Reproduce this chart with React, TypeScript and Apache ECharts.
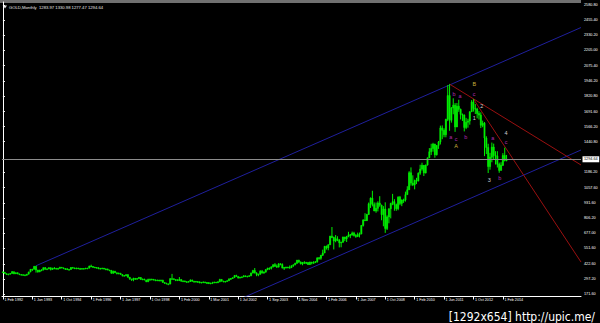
import React, { useEffect, useRef } from 'react';
import * as echarts from 'echarts';

// ---- axis labels ----
const dateLabels = ['1 Feb 1992', '1 Jun 1993', '1 Oct 1994', '1 Feb 1996', '1 Jun 1997', '1 Oct 1998', '1 Feb 2000', '1 Mar 2001', '1 Jul 2002', '1 Sep 2003', '1 Nov 2004', '1 Feb 2006', '1 Jun 2007', '1 Oct 2008', '1 Feb 2010', '1 Jun 2011', '1 Oct 2012', '1 Feb 2014'];
const barsPerLabel = 16;
const slotCount = 315;
const priceTicks = [2580.8, 2455.4, 2330.2, 2205.0, 2075.4, 1946.2, 1820.8, 1691.6, 1566.2, 1440.8, 1186.2, 1057.6, 931.6, 806.2, 677.0, 551.6, 422.6, 297.2, 171.6];
const yMin = 154.9;
const yMax = 2605.8;

// ---- GOLD monthly bars (open of each bar = previous close) ----
const firstOpen = 355;
const closes = [
  353, 341, 336, 337, 343, 357, 340, 349, 339, 334, 333,
  330, 328, 337, 355, 377, 378, 401, 372, 355, 369, 371, 391,
  378, 381, 391, 376, 387, 385, 384, 385, 394, 389, 383, 383,
  375, 376, 392, 389, 385, 387, 383, 382, 384, 382, 387, 387,
  405, 400, 396, 392, 391, 382, 385, 387, 379, 379, 371, 369,
  345, 362, 349, 340, 345, 334, 326, 325, 332, 311, 296, 290,
  302, 297, 301, 309, 293, 296, 288, 273, 293, 292, 294, 288,
  287, 288, 280, 286, 268, 262, 255, 254, 299, 299, 292, 290,
  283, 293, 278, 280, 274, 272, 276, 288, 277, 277, 275, 273, 264, 269, 272,
  265, 267, 258, 263, 265, 270, 265, 273, 293, 278, 275, 277,
  282, 297, 301, 308, 326, 318, 304, 312, 314, 323, 317, 319, 324, 347,
  367, 347, 334, 336, 361, 346, 354, 375, 388, 386, 398, 416,
  402, 396, 423, 418, 388, 393, 395, 392, 391, 407, 415, 428, 453, 438,
  422, 435, 428, 435, 417, 437, 429, 433, 440, 473, 470, 495, 513,
  569, 556, 582, 654, 643, 614, 632, 623, 599, 604, 646, 632,
  650, 665, 662, 679, 659, 650, 665, 672, 743, 789, 783, 834,
  923, 971, 917, 864, 886, 930, 913, 833, 880, 718, 814, 882,
  927, 942, 916, 883, 979, 927, 955, 955, 1000, 1040, 1182, 1096,
  1081, 1118, 1113, 1179, 1213, 1244, 1181, 1247, 1307, 1357, 1385, 1421,
  1332, 1410, 1439, 1556, 1536, 1500, 1628, 1826, 1620, 1722, 1746, 1564,
  1737, 1711, 1669, 1664, 1560, 1604, 1614, 1691, 1773, 1719, 1714, 1676,
  1663, 1578, 1596, 1472, 1393, 1234, 1312, 1396, 1327, 1323, 1253, 1202,
  1244, 1326, 1283.97, 1294.64,
];
const highs = [
  360, 355, 343, 341, 345, 363, 358, 350, 350, 340, 337,
  334, 334, 338, 357, 378, 381, 406, 407, 372, 374, 378, 393,
  396, 385, 393, 391, 389, 396, 389, 389, 398, 395, 392, 386,
  384, 380, 396, 397, 391, 391, 390, 389, 387, 386, 389, 389,
  407, 416, 404, 397, 395, 392, 389, 390, 388, 386, 383, 373,
  369, 366, 363, 349, 350, 345, 335, 329, 336, 337, 312, 298,
  307, 304, 303, 314, 311, 300, 298, 290, 299, 300, 299, 296,
  293, 291, 289, 291, 290, 268, 264, 259, 304, 339, 300, 294,
  293, 313, 294, 285, 283, 279, 280, 293, 291, 281, 279, 278, 275, 271, 276,
  273, 271, 268, 265, 273, 274, 272, 277, 298, 294, 282, 280,
  286, 302, 304, 310, 328, 332, 319, 314, 318, 327, 325, 323, 327, 349,
  373, 388, 353, 341, 370, 372, 360, 377, 389, 392, 400, 418,
  429, 418, 428, 427, 427, 397, 399, 398, 409, 409, 417, 432, 456, 457,
  443, 438, 445, 439, 435, 441, 439, 445, 446, 475, 480, 497, 541,
  572, 575, 585, 656, 730, 650, 663, 653, 627, 607, 650, 648,
  656, 690, 672, 692, 690, 671, 683, 684, 747, 794, 845, 840,
  934, 976, 1032, 935, 934, 944, 987, 915, 904, 936, 827, 885,
  932, 1006, 962, 925, 986, 989, 960, 966, 1025, 1070, 1195, 1227,
  1161, 1125, 1140, 1185, 1249, 1266, 1246, 1250, 1308, 1388, 1424, 1432,
  1424, 1412, 1447, 1575, 1577, 1553, 1632, 1913, 1921, 1730, 1803, 1763,
  1764, 1791, 1717, 1676, 1668, 1640, 1632, 1694, 1788, 1796, 1755, 1724,
  1696, 1686, 1617, 1605, 1487, 1424, 1348, 1434, 1425, 1362, 1362, 1267,
  1270, 1346, 1392, 1330.98,
];
const lows = [
  350, 338, 333, 334, 336, 342, 337, 339, 337, 331, 331,
  327, 326, 326, 336, 354, 364, 377, 350, 350, 355, 364, 369,
  375, 374, 379, 368, 374, 381, 379, 376, 385, 387, 382, 376,
  371, 371, 374, 387, 383, 384, 380, 380, 381, 381, 382, 385,
  387, 396, 393, 389, 388, 379, 380, 384, 378, 377, 370, 366,
  341, 340, 346, 336, 337, 334, 317, 319, 320, 309, 291, 281,
  278, 289, 292, 299, 292, 289, 287, 271, 273, 286, 289, 285,
  283, 282, 278, 278, 267, 256, 253, 251, 254, 295, 288, 279,
  280, 282, 276, 276, 271, 270, 271, 272, 275, 270, 272, 268, 262, 263, 266,
  262, 255, 256, 254, 262, 264, 264, 264, 270, 277, 271, 271,
  276, 281, 289, 299, 308, 316, 302, 303, 309, 312, 313, 315, 317, 320,
  343, 343, 320, 320, 334, 343, 341, 350, 370, 373, 376, 393,
  399, 390, 393, 411, 385, 372, 385, 388, 387, 389, 398, 411, 423, 431,
  419, 411, 423, 421, 414, 413, 418, 426, 430, 433, 458, 457, 489,
  514, 542, 536, 581, 637, 543, 603, 612, 560, 561, 598, 612,
  605, 645, 637, 662, 651, 640, 648, 643, 670, 734, 780, 781,
  834, 889, 902, 862, 849, 860, 899, 786, 736, 681, 705, 761,
  802, 912, 866, 865, 870, 912, 904, 931, 942, 1000, 1040, 1075,
  1071, 1044, 1088, 1111, 1165, 1200, 1155, 1177, 1242, 1307, 1330, 1358,
  1308, 1326, 1381, 1418, 1462, 1478, 1478, 1613, 1532, 1600, 1670, 1523,
  1563, 1690, 1627, 1614, 1527, 1546, 1558, 1583, 1690, 1692, 1672, 1636,
  1626, 1555, 1562, 1321, 1338, 1180, 1208, 1270, 1291, 1251, 1226, 1182,
  1202, 1239, 1277, 1277.47,
];
const titleText = 'GOLD,Monthly  1283.97 1330.98 1277.47 1294.64';

// ---- drawn objects: [bar index, price] ----
const upperChannel = [[18, 407], [314.5, 2393]];
const lowerChannel = [[18, -614], [314.5, 1372]];
const redLineA = [[243, 1921], [314.5, 1247]];
const redLineB = [[256, 1796], [314.5, 438]];

// ---- wave labels ----
const waveNames = ['B', 'A', '1', '2', '3', '4', 'b', 'a', 'c', 'a', 'c', 'b', 'a', 'c', 'b'];
const waveBars = [256.5, 246.5, 256.5, 260.5, 264.6, 273.7, 245.4, 248.7, 256.3, 243.6, 246.5, 251.8, 266.5, 273.7, 270.3];
const wavePrices = [1922, 1405, 1639, 1739, 1122, 1514, 1839, 1822, 1839, 1480, 1464, 1480, 1472, 1441, 1139];

const watermark = '[1292x654] http://upic.me/';

export default function App() {
  const ref = useRef<HTMLDivElement>(null);
  useEffect(() => {
    if (!ref.current) return;
    const chart = echarts.init(ref.current, null, { renderer: 'svg' });
    const bars = closes.map((c, i) => [i, i === 0 ? firstOpen : closes[i - 1], c, lows[i], highs[i]]);
    const categories = Array.from({ length: slotCount }, (_, i) => String(i));
    const lastClose = closes[closes.length - 1];
    const isLabelSlot = (index: number) => index % barsPerLabel === 0 && index / barsPerLabel < dateLabels.length;
    const waveColor = (t: string) => (/[A-Z]/.test(t) ? '#c8b03c' : /[0-9]/.test(t) ? '#cfcfcf' : '#b02cb0');
    const blue = '#1f1f9c';
    const red = '#9a1010';
    const green = '#00f000';
    const lineSeries = (data: number[][], color: string) => ({
      type: 'line', xAxisIndex: 1, yAxisIndex: 0, data, symbol: 'none', showSymbol: false, silent: true,
      lineStyle: { color, width: 1 }, clip: true, z: 3,
    });
    const staticGraphics: any[] = [
      { type: 'rect', shape: { x: 0, y: 0, width: 581, height: 3 }, style: { fill: '#707070' }, silent: true },
      { type: 'polygon', shape: { points: [[3, 5.6], [7, 5.6], [5, 8.6]] }, style: { fill: '#e8e8e8' }, silent: true },
      {
        type: 'text', x: 595, y: 317, silent: true,
        style: { text: watermark, fill: '#ffffff', fontSize: 12, fontFamily: '"DejaVu Sans Condensed", "DejaVu Sans", sans-serif', align: 'right', verticalAlign: 'middle' },
      },
    ];

    const renderCandle = (_params: any, api: any) => {
      const x = api.value(0);
      const pO = api.coord([x, api.value(1)]);
      const pC = api.coord([x, api.value(2)]);
      const pL = api.coord([x, api.value(3)]);
      const pH = api.coord([x, api.value(4)]);
      const w = api.size([1, 0])[0] * 0.62;
      const top = Math.min(pO[1], pC[1]);
      const bot = Math.max(pO[1], pC[1]);
      return {
        type: 'group',
        children: [
          { type: 'line', shape: { x1: pH[0], y1: pH[1], x2: pL[0], y2: pL[1] }, style: { stroke: green, lineWidth: 1 } },
          { type: 'rect', shape: { x: pO[0] - w / 2, y: top, width: w, height: Math.max(bot - top, 0.8) }, style: { fill: green, stroke: green, lineWidth: 0.6 } },
        ],
      };
    };

    chart.setOption({
      animation: false,
      backgroundColor: '#000000',
      textStyle: { fontFamily: '"Liberation Sans", Arial, sans-serif' },
      title: {
        text: titleText, left: 9, top: 5, padding: 0,
        textStyle: { color: '#e8e8e8', fontSize: 4.2, fontWeight: 'normal', fontFamily: '"Liberation Sans", Arial, sans-serif' },
      },
      grid: { left: 2, right: 19, top: 2, bottom: 27, containLabel: false, outerBoundsMode: 'none' },
      xAxis: [
        {
          type: 'category', data: categories, boundaryGap: true,
          axisLine: { show: true, lineStyle: { color: '#ffffff', width: 1 } },
          axisTick: { show: true, alignWithLabel: true, interval: isLabelSlot, length: 3.5, lineStyle: { color: '#ffffff' } },
          axisLabel: {
            show: true, interval: isLabelSlot, color: '#ffffff', fontSize: 3.7, align: 'left', margin: 1.5, padding: [0, 0, 0, 1.5],
            formatter: (_v: string, i: number) => dateLabels[i / barsPerLabel] ?? '',
          },
          splitLine: { show: false },
        },
        { type: 'value', min: -0.5, max: slotCount - 0.5, show: false },
      ],
      yAxis: {
        type: 'value', position: 'right', min: yMin, max: yMax,
        axisLine: { show: true, lineStyle: { color: '#ffffff', width: 1 } },
        axisTick: { show: true, customValues: priceTicks, length: 2, lineStyle: { color: '#ffffff' } },
        axisLabel: { show: true, customValues: priceTicks, color: '#ffffff', fontSize: 3.8, margin: 3, formatter: (v: number) => v.toFixed(2) },
        splitLine: { show: false },
      },
      graphic: staticGraphics,
      series: [
        lineSeries(upperChannel, blue),
        lineSeries(lowerChannel, blue),
        lineSeries(redLineA, red),
        lineSeries(redLineB, red),
        {
          type: 'custom', xAxisIndex: 0, yAxisIndex: 0, data: bars, z: 4, silent: true,
          encode: { x: 0, y: [1, 2, 3, 4] },
          renderItem: renderCandle,
          markLine: {
            silent: true, symbol: ['none', 'none'], animation: false,
            data: [{ yAxis: lastClose }],
            lineStyle: { color: '#8c8c8c', type: 'solid', width: 1 },
            label: {
              show: true, position: 'end', distance: 1.5, formatter: lastClose.toFixed(2), color: '#000000',
              backgroundColor: '#ffffff', fontSize: 3.8, padding: [1, 1.5],
            },
          },
        },
      ],
    });

    // wave labels positioned through the chart's own scales
    const waveGraphics = waveNames.map((t, i) => {
      const [px, py] = chart.convertToPixel({ xAxisIndex: 1, yAxisIndex: 0 }, [waveBars[i], wavePrices[i]]) as number[];
      return {
        type: 'text', x: px, y: py, silent: true, z: 20,
        style: { text: t, fill: waveColor(t), fontSize: 5.5, align: 'center', verticalAlign: 'middle', fontFamily: '"Liberation Sans", Arial, sans-serif' },
      };
    });
    chart.setOption({ graphic: [...staticGraphics, ...waveGraphics] });
    return () => chart.dispose();
  }, []);
  return <div ref={ref} style={{ position: 'fixed', left: 0, top: 0, width: 600, height: 323, background: '#000' }} />;
}
